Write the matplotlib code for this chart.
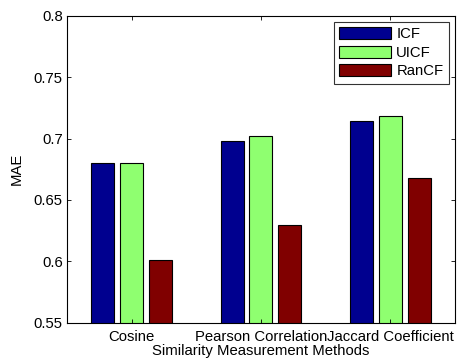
import matplotlib
matplotlib.use("Agg")
import matplotlib.pyplot as plt
from matplotlib.patches import Rectangle
from matplotlib.legend_handler import HandlerPatch
import numpy as np

plt.rcParams['font.family'] = ['Liberation Sans', 'DejaVu Sans']

categories = ["Cosine", "Pearson Correlation", "Jaccard Coefficient"]
series_names = ["ICF", "UICF", "RanCF"]
icf = [0.680, 0.698, 0.714]
uicf = [0.680, 0.702, 0.718]
rancf = [0.601, 0.630, 0.668]
colors = ["#00008F", "#8FFF70", "#800000"]

fs = 10.7
fig = plt.figure(figsize=(4.58, 3.62), dpi=100)
ax = fig.add_axes([0.146, 0.108, 0.8475, 0.849])

x = np.arange(1, len(categories) + 1)
step = 0.6667 / 3
width = step * 0.8
for i, (vals, name, c) in enumerate(zip([icf, uicf, rancf], series_names, colors)):
    ax.bar(x + (i - 1) * step, vals, width=width, color=c, edgecolor='black',
           linewidth=0.8, label=name)

ax.set_xlim(0.5, 3.5)
ax.set_ylim(0.55, 0.8)
ax.set_yticks([0.55, 0.6, 0.65, 0.7, 0.75, 0.8])
ax.set_yticklabels(["0.55", "0.6", "0.65", "0.7", "0.75", "0.8"])
ax.set_xticks(x)
ax.set_xticklabels(categories)
ax.tick_params(direction='in', top=True, right=True, labelsize=fs, length=3, width=0.6)
ax.tick_params(axis='y', pad=3)
ax.tick_params(axis='x', pad=5)
for s in ax.spines.values():
    s.set_linewidth(0.8)
ax.set_xlabel("Similarity Measurement Methods", fontsize=fs, labelpad=0)
ax.set_ylabel("MAE", fontsize=fs, labelpad=7)

OFF = 6.1  # pixels of extra left padding before the legend swatch


def make_rect(legend, orig_handle, xdescent, ydescent, width, height, fontsize):
    return Rectangle((-xdescent + OFF, -ydescent), width - OFF, height)


leg = ax.legend(loc='upper right', fontsize=fs, handlelength=3.5, handleheight=0.875,
                borderaxespad=0.4, frameon=True, fancybox=False, edgecolor='black',
                labelspacing=0.28, borderpad=0.38, handletextpad=0.34,
                handler_map={Rectangle: HandlerPatch(patch_func=make_rect)})
leg.get_frame().set_linewidth(0.8)

fig.savefig("out.png", dpi=100)
